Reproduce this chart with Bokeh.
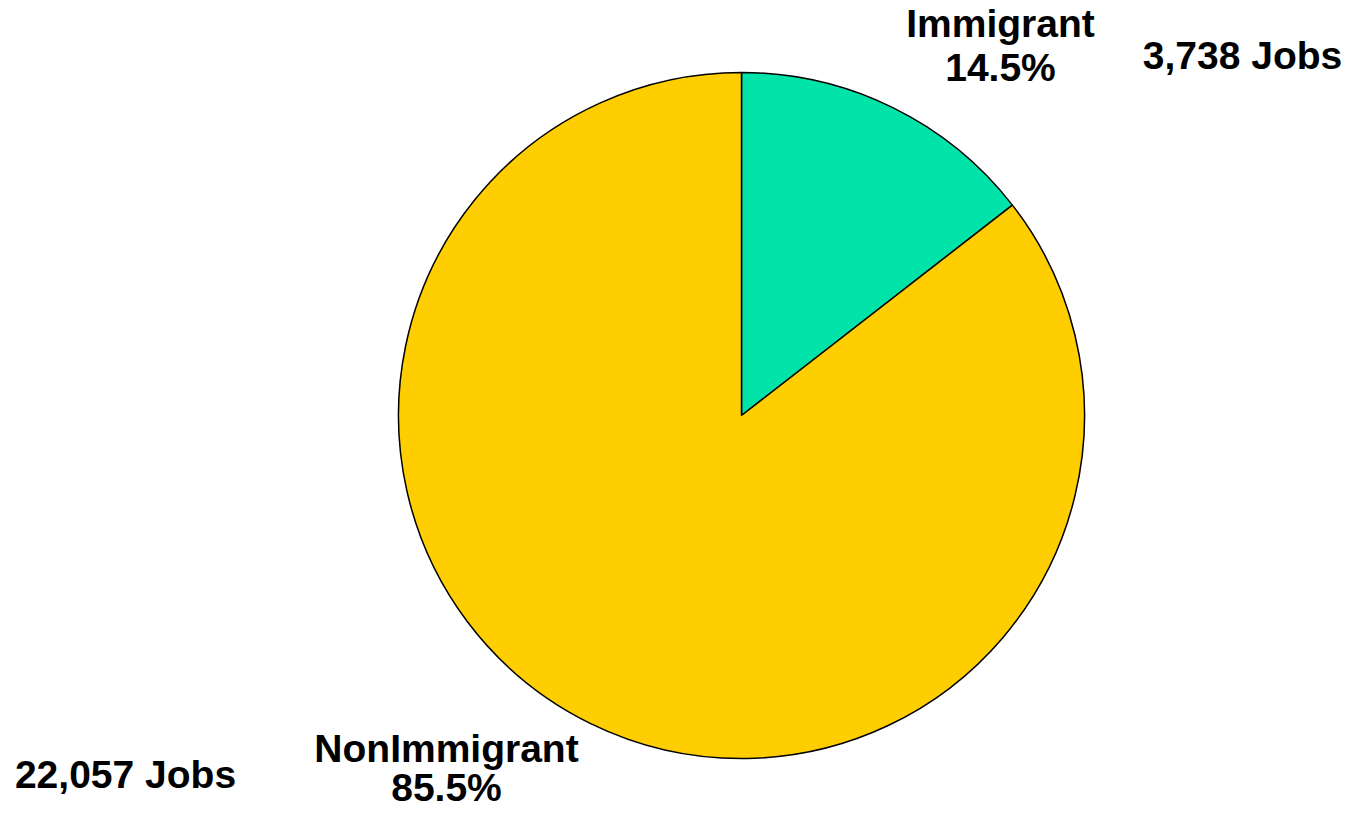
import math
from bokeh.plotting import figure
from bokeh.models import Range1d, ColumnDataSource
from bokeh.core.properties import value
from bokeh.embed import file_html
from bokeh.resources import INLINE

categories = ["Immigrant", "NonImmigrant"]
jobs = [3738, 22057]
percent_labels = ["14.5%", "85.5%"]
job_labels = ["3,738 Jobs", "22,057 Jobs"]
colors = ["#00E4AA", "#FFCE00"]

W, H = 1343, 811
p = figure(width=W, height=H, output_backend="svg", toolbar_location=None,
           x_range=Range1d(0, W), y_range=Range1d(0, H),
           min_border=0)
p.axis.visible = False
p.grid.visible = False
p.outline_line_color = None
p.background_fill_color = "white"

cx, cy, r = 741, H - 415, 343
total = sum(jobs)
starts, ends = [], []
acc = 0.0
for v in jobs:
    a0 = math.pi / 2 - 2 * math.pi * acc / total
    acc += v
    a1 = math.pi / 2 - 2 * math.pi * acc / total
    starts.append(a1)
    ends.append(a0)

src = ColumnDataSource(dict(cat=categories, start=starts, end=ends, color=colors))
p.wedge(x=cx, y=cy, radius=r, start_angle="start", end_angle="end",
        fill_color="color", line_color="black", line_width=1.5, source=src)

font = value("Liberation Sans")
fs = "39px"
adj = 15  # baseline correction
lab_x = [1000, 446]
lab_base = [38, 763]
pct_base = [82, 802]
job_x = [1242, 125]
job_base = [70, 789]


def put(x, base, txt):
    p.text(x=[x], y=[H - base + adj], text=[txt],
           text_font=font, text_font_style="bold", text_font_size=fs,
           text_align="center", text_baseline="alphabetic", text_color="black")


for i in range(len(categories)):
    put(lab_x[i], lab_base[i], categories[i])
    put(lab_x[i], pct_base[i], percent_labels[i])
    put(job_x[i], job_base[i], job_labels[i])

open("out.html", "w").write(file_html(p, INLINE))
